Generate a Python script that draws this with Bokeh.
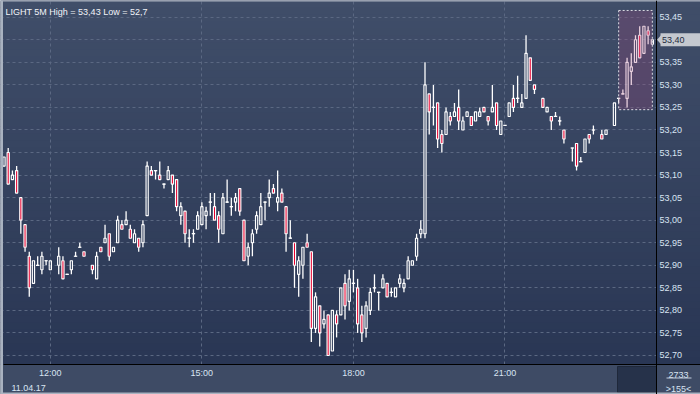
import numpy as np
from bokeh.plotting import figure
from bokeh.models import (Range1d, FixedTicker, CustomJSTickFormatter,
                          BoxAnnotation, Label, PolyAnnotation)
from bokeh.embed import file_html
from bokeh.resources import INLINE

# ---------------- data (5-minute bars, 11.04.17) ----------------
times = [
    "11:05", "11:10", "11:15", "11:20", "11:25", "11:30", "11:35", "11:40", "11:45", "11:50", "11:55",
    "12:00", "12:10", "12:15", "12:20", "12:25", "12:30", "12:35", "12:40", "12:50", "12:55",
    "13:00", "13:05", "13:10", "13:15", "13:20", "13:25", "13:30", "13:35", "13:40", "13:45", "13:50", "13:55",
    "14:00", "14:05", "14:10", "14:15", "14:20", "14:25", "14:30", "14:35", "14:40", "14:45", "14:50", "14:55",
    "15:00", "15:05", "15:10", "15:15", "15:20", "15:25", "15:30", "15:35", "15:40", "15:45", "15:50", "15:55",
    "16:00", "16:05", "16:10", "16:15", "16:20", "16:25", "16:30", "16:35", "16:40", "16:45", "16:50", "16:55",
    "17:00", "17:05", "17:10", "17:15", "17:20", "17:25", "17:30", "17:35", "17:40", "17:45", "17:50", "17:55",
    "18:00", "18:05", "18:10", "18:15", "18:20", "18:25", "18:30", "18:35", "18:40", "18:45", "18:50", "18:55",
    "19:00", "19:05", "19:10", "19:15", "19:20", "19:25", "19:30", "19:35", "19:40", "19:45", "19:50", "19:55",
    "20:00", "20:05", "20:10", "20:15", "20:20", "20:25", "20:30", "20:35", "20:40", "20:45", "20:50", "20:55",
    "21:00", "21:05", "21:10", "21:15", "21:20", "21:25", "21:30", "21:35", "21:45", "21:50", "21:55",
    "22:00", "22:05", "22:10", "22:20", "22:25", "22:30", "22:35", "22:40", "22:45", "22:55",
    "23:00", "23:10", "23:15", "23:20", "23:25", "23:30", "23:35", "23:40", "23:45", "23:50", "23:55",
]
opens = [
    53.12, 53.15, 53.09, 53.11, 53.05, 52.99, 52.92, 52.86, 52.90, 52.89, 52.91,
    52.89, 52.90, 52.91, 52.88, 52.89, 52.92, 52.94, 52.93, 52.90, 52.87,
    52.94, 52.95, 52.97, 52.93, 52.95, 52.99, 52.99, 52.98, 52.95, 52.96, 52.95, 53.01,
    53.11, 53.11, 53.10, 53.08, 53.09, 53.10, 53.09, 53.01, 53.02, 52.96, 52.97, 52.98,
    52.99, 53.01, 53.04, 53.03, 53.01, 52.97, 53.04, 53.03, 53.04, 53.07, 53.00, 52.92,
    52.95, 52.98, 52.99, 53.04, 53.05, 53.07, 53.04, 53.06, 53.03, 52.96, 52.95, 52.88,
    52.90, 52.95, 52.93, 52.76, 52.81, 52.77, 52.79, 52.71, 52.79, 52.79, 52.86, 52.82,
    52.86, 52.85, 52.79, 52.76, 52.80, 52.85, 52.84, 52.85, 52.86, 52.84, 52.83, 52.86,
    52.85, 52.87, 52.90, 52.92, 52.97, 52.97, 53.28, 53.25, 53.26, 53.19, 53.19, 53.23,
    53.23, 53.25, 53.20, 53.23, 53.23, 53.22, 53.23, 53.25, 53.23, 53.24, 53.26, 53.19,
    53.21, 53.23, 53.27, 53.27, 53.25, 53.27, 53.36, 53.30, 53.27, 53.24, 53.23,
    53.23, 53.22, 53.20, 53.16, 53.17, 53.13, 53.15, 53.19, 53.20, 53.19,
    53.19, 53.21, 53.27, 53.28, 53.27, 53.33, 53.35, 53.41, 53.37, 53.42, 53.39,
]
highs = [
    53.14, 53.16, 53.11, 53.12, 53.05, 52.99, 52.93, 52.91, 52.92, 52.93, 52.91,
    52.91, 52.94, 52.92, 52.88, 52.91, 52.93, 52.95, 52.93, 52.90, 52.93,
    52.94, 52.99, 52.97, 52.94, 53.01, 53.00, 53.02, 52.99, 52.98, 52.96, 53.00, 53.13,
    53.12, 53.11, 53.13, 53.08, 53.12, 53.10, 53.09, 53.04, 53.02, 52.98, 52.98, 53.02,
    53.04, 53.03, 53.06, 53.06, 53.02, 53.06, 53.09, 53.05, 53.06, 53.07, 53.00, 52.95,
    52.98, 53.02, 53.06, 53.04, 53.09, 53.08, 53.11, 53.07, 53.03, 53.00, 52.95, 52.92,
    52.94, 52.97, 52.93, 52.84, 52.81, 52.80, 52.79, 52.80, 52.80, 52.85, 52.88, 52.89,
    52.89, 52.87, 52.81, 52.82, 52.85, 52.88, 52.84, 52.88, 52.86, 52.85, 52.85, 52.88,
    52.87, 52.92, 52.91, 52.97, 53.00, 53.35, 53.28, 53.30, 53.26, 53.20, 53.25, 53.24,
    53.26, 53.29, 53.23, 53.24, 53.23, 53.24, 53.25, 53.25, 53.23, 53.30, 53.26, 53.22,
    53.21, 53.26, 53.30, 53.32, 53.28, 53.41, 53.36, 53.30, 53.27, 53.25, 53.23,
    53.24, 53.23, 53.20, 53.16, 53.17, 53.14, 53.18, 53.19, 53.21, 53.20,
    53.20, 53.26, 53.27, 53.29, 53.36, 53.37, 53.41, 53.43, 53.43, 53.43, 53.40,
]
lows = [
    53.12, 53.08, 53.09, 53.06, 52.97, 52.93, 52.83, 52.86, 52.90, 52.88, 52.90,
    52.89, 52.88, 52.87, 52.88, 52.88, 52.92, 52.94, 52.92, 52.88, 52.87,
    52.93, 52.95, 52.91, 52.93, 52.95, 52.98, 52.99, 52.96, 52.95, 52.93, 52.94, 53.01,
    53.10, 53.09, 53.09, 53.07, 53.09, 53.06, 53.02, 52.99, 52.95, 52.94, 52.95, 52.98,
    52.99, 52.98, 53.01, 53.00, 52.95, 52.97, 53.04, 53.01, 53.02, 53.01, 52.91, 52.90,
    52.92, 52.97, 52.99, 53.00, 53.03, 53.06, 53.02, 53.04, 52.93, 52.96, 52.85, 52.83,
    52.87, 52.94, 52.73, 52.75, 52.72, 52.76, 52.70, 52.71, 52.74, 52.79, 52.78, 52.80,
    52.84, 52.75, 52.73, 52.74, 52.79, 52.84, 52.80, 52.85, 52.83, 52.83, 52.83, 52.85,
    52.84, 52.87, 52.90, 52.91, 52.96, 52.96, 53.19, 53.21, 53.16, 53.15, 53.19, 53.21,
    53.23, 53.20, 53.20, 53.23, 53.21, 53.22, 53.23, 53.24, 53.21, 53.24, 53.20, 53.19,
    53.21, 53.23, 53.24, 53.26, 53.25, 53.27, 53.31, 53.28, 53.25, 53.24, 53.20,
    53.23, 53.21, 53.17, 53.13, 53.11, 53.13, 53.15, 53.17, 53.19, 53.18,
    53.19, 53.21, 53.26, 53.28, 53.25, 53.30, 53.35, 53.36, 53.37, 53.39, 53.39,
]
closes = [
    53.14, 53.08, 53.10, 53.06, 53.00, 52.94, 52.85, 52.91, 52.90, 52.92, 52.91,
    52.91, 52.92, 52.87, 52.88, 52.91, 52.92, 52.94, 52.92, 52.89, 52.92,
    52.93, 52.96, 52.92, 52.94, 53.00, 52.98, 53.00, 52.96, 52.97, 52.94, 52.99, 53.12,
    53.10, 53.11, 53.09, 53.08, 53.11, 53.08, 53.03, 53.03, 52.97, 52.96, 52.97, 53.01,
    53.03, 53.02, 53.04, 53.00, 52.98, 53.05, 53.04, 53.03, 53.05, 53.02, 52.91, 52.94,
    52.97, 53.01, 53.03, 53.04, 53.06, 53.06, 53.05, 53.04, 52.97, 52.96, 52.90, 52.91,
    52.94, 52.94, 52.76, 52.83, 52.75, 52.78, 52.70, 52.80, 52.77, 52.85, 52.81, 52.87,
    52.86, 52.77, 52.75, 52.81, 52.84, 52.85, 52.84, 52.87, 52.83, 52.84, 52.85, 52.87,
    52.86, 52.91, 52.91, 52.96, 52.98, 53.30, 53.24, 53.25, 53.18, 53.17, 53.24, 53.22,
    53.24, 53.22, 53.22, 53.24, 53.21, 53.24, 53.24, 53.24, 53.22, 53.25, 53.21, 53.22,
    53.21, 53.26, 53.25, 53.27, 53.26, 53.37, 53.31, 53.29, 53.25, 53.25, 53.22,
    53.23, 53.22, 53.18, 53.16, 53.12, 53.13, 53.18, 53.18, 53.20, 53.18,
    53.20, 53.26, 53.27, 53.28, 53.35, 53.34, 53.40, 53.36, 53.43, 53.41, 53.40,
]
price_ticks = [52.70, 52.75, 52.80, 52.85, 52.90, 52.95, 53.00, 53.05,
               53.10, 53.15, 53.20, 53.25, 53.30, 53.35, 53.40, 53.45]
time_ticks = ["12:00", "15:00", "18:00", "21:00"]
title_text = "LIGHT 5M High = 53,43 Low = 52,7"
date_text = "11.04.17"
bars_total_text = "2733"
bars_visible_text = ">155<"
zoom_times = ["23:15", "23:55"]
zoom_prices = [53.245, 53.465]


def hours(s):
    hh, mm = s.split(":")
    return int(hh) + int(mm) / 60.0


t = np.array([hours(s) for s in times])
o = np.array(opens)
hi = np.array(highs)
lo = np.array(lows)
c = np.array(closes)
body_top = np.maximum(o, c)
body_bot = np.minimum(o, c)
up = c >= o
down = ~up
doji = np.isclose(o, c)

# ---------------- layout ----------------
W, H = 700, 394
CL, CR, CB = 3, 656, 364          # chart area: left edge, right edge (price axis), bottom (time axis)
PX_H = 50.52                      # pixels per hour
PX_P = 451.0                      # pixels per price unit
XA = t[0] - 0.5 / PX_H            # time at the chart's left edge
YA = 53.4871                      # price at the top edge


def X(px):
    return XA + (px - CL) / PX_H


def Y(py):
    return YA - py / PX_P


FONT = "Liberation Sans"
LABEL_COLOR = "#d9e4f2"
PANEL = "#3e4b65"
BORDER = "#a9b2c0"
TOP_RGB = (64, 78, 105)
BOT_RGB = (41, 54, 84)


def box(l, r, tp, bt, color, level="annotation", line=None):
    return BoxAnnotation(left=X(l), right=X(r), top=Y(tp), bottom=Y(bt),
                         fill_color=color, fill_alpha=1,
                         line_color=line, line_alpha=1 if line else 0, level=level)


p = figure(width=W, height=H, x_range=Range1d(X(0), X(W)), y_range=Range1d(Y(H), Y(0)),
           output_backend="svg", toolbar_location=None, y_axis_location="right",
           min_border_left=0, min_border_right=0, min_border_top=0, min_border_bottom=0,
           border_fill_color=PANEL, background_fill_color=PANEL,
           outline_line_color=None, title=None)

# vertical gradient background of the chart area and of the price-axis strip
N = 52
for k in range(N):
    f = (k + 0.5) / N
    col = "#%02x%02x%02x" % tuple(int(round(a + (b - a) * f)) for a, b in zip(TOP_RGB, BOT_RGB))
    tp = CB * k / N
    bp = CB * (k + 1) / N + 0.6
    p.add_layout(box(0, CR + 0.5, tp, bp, col, level="image"))
    p.add_layout(box(CR + 0.5, W + 2, tp, bp, col, level="annotation"))

# grids
p.xgrid.ticker = FixedTicker(ticks=[hours(s) for s in time_ticks])
p.ygrid.ticker = FixedTicker(ticks=price_ticks)
for g in (p.xgrid[0], p.ygrid[0]):
    g.grid_line_color = "#5b6882"
    g.grid_line_dash = "3 3"
    g.grid_line_width = 1

# axes (drawn at fixed positions so the whole window is one frame)
yax = p.yaxis[0]
yax.fixed_location = X(CR)
yax.ticker = FixedTicker(ticks=[v for v in price_ticks if abs(v - closes[-1]) > 1e-6])
yax.formatter = CustomJSTickFormatter(code="return tick.toFixed(2).replace('.', ',');")
xax = p.xaxis[0]
xax.fixed_location = Y(CB)
xax.bounds = (X(CL), X(W + 2))
xax.ticker = FixedTicker(ticks=[hours(s) for s in time_ticks])
xax.formatter = CustomJSTickFormatter(code=(
    "var h = Math.floor(tick + 1e-6); var m = Math.round((tick - h) * 60);"
    "return (h < 10 ? '0' : '') + h + ':' + (m < 10 ? '0' : '') + m;"))
for ax in (xax, yax):
    ax.major_tick_line_color = None
    ax.minor_tick_line_color = None
    ax.major_tick_out = 0
    ax.major_tick_in = 0
    ax.axis_line_color = "black"
    ax.axis_line_width = 1
    ax.major_label_standoff = 3
    ax.major_label_text_font = FONT
    ax.major_label_text_font_size = "9px"
    ax.major_label_text_color = LABEL_COLOR
    ax.level = "overlay"

# candles
bw = 2.2 / PX_H
p.segment(x0=t, y0=hi, x1=t, y1=body_top, line_color="white", line_width=1.3)
p.segment(x0=t, y0=body_bot, x1=t, y1=lo, line_color="white", line_width=1.3)
p.vbar(x=t[up], top=body_top[up], bottom=body_bot[up], width=bw,
       fill_color=None, line_color="white", line_width=1.15)
p.vbar(x=t[down], top=body_top[down], bottom=body_bot[down], width=bw,
       fill_color="#e8002f", line_color="white", line_width=1.15)
dh = bw / 2 + 0.6 / PX_H
p.segment(x0=t[doji] - dh, y0=c[doji], x1=t[doji] + dh, y1=c[doji],
          line_color="white", line_width=1.2)

# highlighted zoom window
p.quad(left=[hours(zoom_times[0])], right=[hours(zoom_times[1])],
       bottom=[zoom_prices[0]], top=[zoom_prices[1]],
       fill_color="#a8447a", fill_alpha=0.25, line_color="#dcdce4",
       line_dash="2 2", line_width=1)

# bottom (time-axis) panel and its widgets
p.add_layout(box(0, W + 2, CB, H + 2, PANEL))
p.add_layout(box(617, CR, 366, 392, "#26324a", line="#1f283a"))
# window border
p.add_layout(box(-2, CL - 0.5, -2, H + 2, BORDER))
p.add_layout(box(-2, W + 2, -2, 1, BORDER))
p.add_layout(box(-2, W + 2, 392, H + 2, BORDER))


def label(px, py, text, color=LABEL_COLOR, align="left", baseline="alphabetic"):
    return Label(x=X(px), y=Y(py), text=text, text_font=FONT, text_font_size="9px",
                 text_color=color, text_align=align, text_baseline=baseline,
                 level="overlay")


p.add_layout(label(5, 11.5, title_text, color="#f2f4f8"))
p.add_layout(label(11, 387, date_text))
p.add_layout(label(678, 374.5, bars_total_text, align="center"))
p.add_layout(box(666, 691, 377, 378, "#c5d0e0", level="overlay"))
p.add_layout(label(678, 388, bars_visible_text, align="center"))

# current price callout on the price axis
last = closes[-1]
ly = (YA - last) * PX_P
p.add_layout(box(660, W + 2, ly - 6.5, ly + 6.5, "#c4c8cf", level="overlay"))
p.add_layout(PolyAnnotation(xs=[X(656.5), X(660.5), X(660.5)],
                            ys=[last, Y(ly - 4.5), Y(ly + 4.5)],
                            fill_color="#c4c8cf", fill_alpha=1, line_color=None,
                            level="overlay"))
p.add_layout(label(661.5, ly, ("%.2f" % last).replace(".", ","), color="#1f2b3e",
                   baseline="middle"))

open("out.html", "w").write(file_html(p, INLINE))
